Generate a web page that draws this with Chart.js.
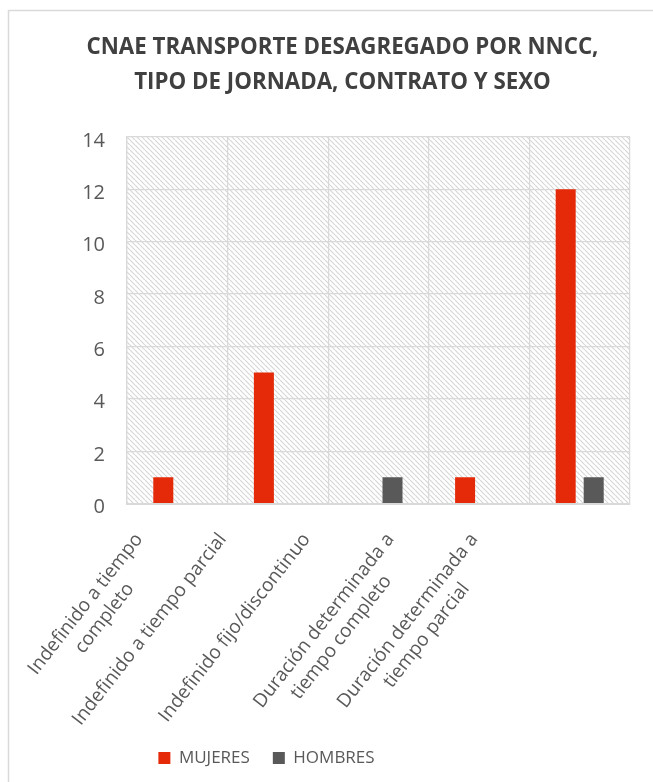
<!DOCTYPE html>
<html>
<head>
<meta charset="utf-8">
<script src="https://cdn.jsdelivr.net/npm/chart.js@4.4.0/dist/chart.umd.min.js"></script>
<style>
  html, body { margin: 0; padding: 0; background: #fff; }
  #wrap { width: 653px; height: 782px; }
</style>
</head>
<body>
<div id="wrap"><canvas id="chart"></canvas></div>
<script>
const categorias = [
  ["Indefinido a tiempo", "completo"],
  ["Indefinido a tiempo parcial"],
  ["Indefinido fijo/discontinuo"],
  ["Duración determinada a", "tiempo completo"],
  ["Duración determinada a", "tiempo parcial"]
];
const mujeres = [1, 5, 0, 1, 12];
const hombres = [0, 0, 1, 0, 1];
const ejeY = { min: 0, max: 14, paso: 2 };
const titulo = ["CNAE TRANSPORTE DESAGREGADO POR NNCC,", "TIPO DE JORNADA, CONTRATO Y SEXO"];

const FAMILIA = "'Open Sans', sans-serif";
const TAM_ETIQUETA = 19;
Chart.defaults.font.family = FAMILIA;
Chart.defaults.color = "#595959";

// Chart.js right-aligns rotated lines; pad the shorter ones so they look centred
function centrarLineas(lineas, size) {
  const m = document.createElement("canvas").getContext("2d");
  m.font = size + "px " + FAMILIA;
  const ancho = Math.max(...lineas.map(l => m.measureText(l).width));
  const esp = m.measureText(" ").width;
  return lineas.map(l => l + " ".repeat(Math.round((ancho - m.measureText(l).width) / 2 / esp)));
}
const etiquetas = categorias.map(c => centrarLineas(c, TAM_ETIQUETA));
// labels sit on their own axis, spaced a bit tighter than the bars (like the original)
const etiquetasEje = etiquetas.concat([""]);

// diagonal hatch for the plot background
function makeHatch() {
  const s = 5;
  const c = document.createElement("canvas");
  c.width = s;
  c.height = s;
  const g = c.getContext("2d");
  g.fillStyle = "#ffffff";
  g.fillRect(0, 0, s, s);
  g.strokeStyle = "#d6d6d6";
  g.lineWidth = 1.2;
  g.beginPath();
  for (const k of [-s, 0, s]) {
    g.moveTo(k, 0);
    g.lineTo(k + s, s);
  }
  g.stroke();
  return g.createPattern(c, "repeat");
}

const fondo = {
  id: "fondo",
  afterLayout(chart) {
    // legend sits left of centre and a little higher in the original
    const lg = chart.legend;
    lg.left -= 76;
    lg.right -= 76;
    lg.top -= 5.5;
    lg.bottom -= 5.5;
    // let the long rotated labels run a bit past their box instead of being clipped
    chart.scales.xEtiquetas.bottom += 20;
  },
  beforeDraw(chart) {
    const { ctx, chartArea: a } = chart;
    ctx.save();
    ctx.fillStyle = makeHatch();
    ctx.fillRect(a.left, a.top, a.right - a.left, a.bottom - a.top);
    ctx.strokeStyle = "#d9d9d9";
    ctx.lineWidth = 1.5;
    ctx.strokeRect(8.5, 10.5, chart.width + 20, chart.height + 20);
    ctx.restore();
  }
};

new Chart(document.getElementById("chart"), {
  type: "bar",
  data: {
    labels: categorias,
    datasets: [
      {
        label: "MUJERES",
        data: mujeres,
        backgroundColor: "#E52A0A",
        categoryPercentage: 0.557,
        barPercentage: 0.714
      },
      {
        label: "HOMBRES",
        data: hombres,
        backgroundColor: "#595959",
        categoryPercentage: 0.557,
        barPercentage: 0.714
      }
    ]
  },
  options: {
    responsive: true,
    maintainAspectRatio: false,
    animation: false,
    layout: { padding: { left: 55, right: 23, top: 0, bottom: 0 } },
    plugins: {
      title: {
        display: true,
        text: titulo,
        color: "#404040",
        font: { size: 22.3, weight: "bold", lineHeight: 35 / 22.3 },
        padding: { top: 30, bottom: 37 }
      },
      legend: {
        position: "bottom",
        labels: {
          boxWidth: 12,
          boxHeight: 12,
          padding: 23,
          font: { size: 17 },
          color: "#595959"
        }
      },
      tooltip: { enabled: false }
    },
    scales: {
      x: {
        afterFit(scale) { scale.height = 0; },
        grid: { color: "#d9d9d9", lineWidth: 1.25, drawTicks: false, offset: true },
        border: { color: "#d9d9d9", width: 2 },
        ticks: { display: false }
      },
      xEtiquetas: {
        type: "category",
        position: "bottom",
        labels: etiquetasEje,
        offset: true,
        afterFit(scale) { scale.height = 228.5; },
        grid: { display: false },
        border: { display: false },
        ticks: {
          autoSkip: false,
          maxRotation: 52,
          minRotation: 52,
          padding: 17,
          labelOffset: -30,
          font: { size: TAM_ETIQUETA, lineHeight: 1.25 },
          color: "#595959"
        }
      },
      y: {
        min: ejeY.min,
        max: ejeY.max,
        afterFit(scale) { scale.width = 72; },
        grid: { color: "#d9d9d9", lineWidth: 1.25, drawTicks: false },
        border: { color: "#d9d9d9", width: 1.25 },
        ticks: {
          stepSize: ejeY.paso,
          padding: 22,
          labelOffset: 4,
          font: { size: 20 },
          color: "#595959"
        }
      }
    }
  },
  plugins: [fondo]
});
</script>
</body>
</html>
